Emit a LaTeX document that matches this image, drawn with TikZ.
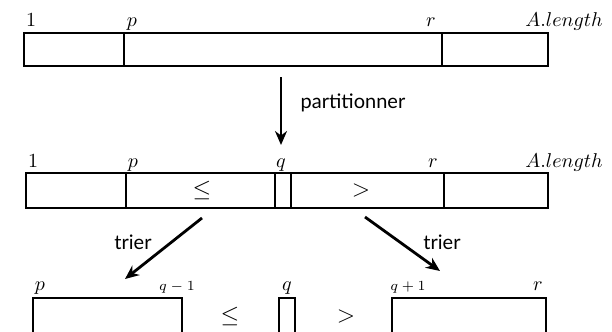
\documentclass[tikz,border=0pt]{standalone}
\usepackage{fontspec}
\newfontfamily\labelfont{Lato}
\usetikzlibrary{arrows.meta}
\begin{document}
\begin{tikzpicture}[x=0.5pt,y=-0.5pt,
  cell/.style={line width=1pt},
  idx/.style={anchor=base,inner sep=0pt},
  sidx/.style={idx,font=\scriptsize},
  rel/.style={inner sep=0pt,font=\fontsize{13}{15}\selectfont},
  flow/.style={line width=1.4pt,-{Stealth[length=7pt,width=6pt]}},
  lbl/.style={font=\labelfont,inner sep=0pt}]
\useasboundingbox (0,0) rectangle (612,332);
\begin{scope}
\clip (0,0) rectangle (612,332);
% top array
\coordinate (t1) at (24,33);
\coordinate (t2) at (548,66);
\draw[cell] (t1) rectangle (t2);
\draw[cell] (124,33) -- (124,66);
\draw[cell] (442,33) -- (442,66);
\node[idx] (t1l) at (31,26) {$1$};
\node[idx] (tpl) at (132,26) {$p$};
\node[idx] (trl) at (431,26) {$r$};
\node[idx] (tal) at (564,26) {$A.length$};
% partition arrow
\coordinate (pa) at (281,77);
\coordinate (pb) at (281,145);
\draw[flow] (pa) -- (pb);
\node[lbl] (part) at (353,103) {partitionner};
% middle array
\draw[cell] (26,173) rectangle (548,208);
\draw[cell] (126,173) -- (126,208);
\draw[cell] (275,173) -- (275,208);
\draw[cell] (291,173) -- (291,208);
\draw[cell] (444,173) -- (444,208);
\node[idx] (m1l) at (33,167) {$1$};
\node[idx] (mpl) at (133,167) {$p$};
\node[idx] (mql) at (281,167) {$q$};
\node[idx] (mrl) at (433,167) {$r$};
\node[idx] (mal) at (564,167) {$A.length$};
\node[rel] (mle) at (202,190) {$\leq$};
\node[rel] (mgt) at (361,190) {$>$};
% sort arrows
\coordinate (la) at (202,218);
\coordinate (lb) at (125,279);
\coordinate (ra) at (365,217);
\coordinate (rb) at (440,271);
\draw[flow] (la) -- (lb);
\draw[flow] (ra) -- (rb);
\node[lbl] (tl) at (133,242) {trier};
\node[lbl] (tr) at (442,242) {trier};
% bottom arrays
\draw[cell] (33,298) rectangle (182,340);
\draw[cell] (279,298) rectangle (295,340);
\draw[cell] (392,298) rectangle (546,340);
\node[idx] (bpl) at (40,290) {$p$};
\node[sidx] (bq1) at (177,290) {$q-1$};
\node[idx] (bql) at (287,290) {$q$};
\node[sidx] (bq2) at (408,290) {$q+1$};
\node[idx] (brl) at (538,290) {$r$};
\node[rel] (ble) at (230,316) {$\leq$};
\node[rel] (bgt) at (346,316) {$>$};
\end{scope}
\end{tikzpicture}
\end{document}
